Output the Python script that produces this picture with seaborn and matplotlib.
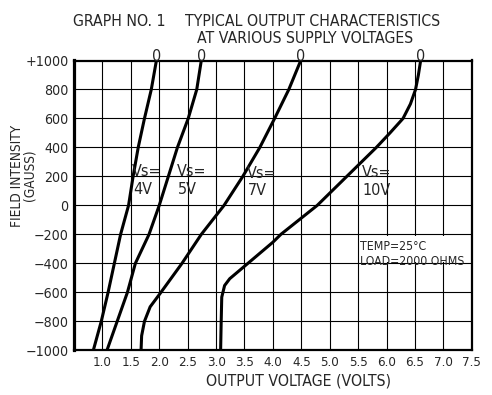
import numpy as np
import pandas as pd
import matplotlib
matplotlib.use("Agg")
import matplotlib.pyplot as plt
import seaborn as sns
from matplotlib.patches import Rectangle

# ---- data ----
field_4v = [1000, 800, 600, 400, 200, 0, -200, -400, -600, -800, -1000]
volts_4v = [1.95, 1.86, 1.74, 1.63, 1.54, 1.46, 1.32, 1.21, 1.10, 0.98, 0.84]

field_5v = [1000, 800, 600, 400, 200, 0, -200, -400, -600, -800, -1000]
volts_5v = [2.74, 2.66, 2.51, 2.32, 2.16, 2.00, 1.82, 1.58, 1.44, 1.26, 1.08]

field_7v = [1000, 800, 600, 400, 200, 0, -200, -400, -600, -700, -800, -900, -1000]
volts_7v = [4.49, 4.28, 4.03, 3.77, 3.47, 3.14, 2.74, 2.40, 2.03, 1.84, 1.74, 1.69, 1.68]

field_10v = [1000, 900, 800, 700, 600, 500, 400, 200, 0, -200, -254, -400, -506, -553, -633, -800, -1000]
volts_10v = [6.60, 6.56, 6.51, 6.42, 6.29, 6.06, 5.82, 5.30, 4.78, 4.14, 4.00, 3.56, 3.24, 3.15, 3.10, 3.09, 3.08]

supply_labels = ["4V", "5V", "7V", "10V"]
x_ticks = [0.5, 1.0, 1.5, 2.0, 2.5, 3.0, 3.5, 4.0, 4.5, 5.0, 5.5, 6.0, 6.5, 7.0, 7.5]
x_ticklabels = ["", "1.0", "1.5", "2.0", "2.5", "3.0", "3.5", "4.0", "4.5", "5.0",
                "5.5", "6.0", "6.5", "7.0", "7.5"]
y_ticks = [1000, 800, 600, 400, 200, 0, -200, -400, -600, -800, -1000]
y_ticklabels = ["+1000", "800", "600", "400", "200", "0", "\u2212200", "\u2212400",
                "\u2212600", "\u2212800", "\u22121000"]

frames = []
for lab, f, v in zip(supply_labels, [field_4v, field_5v, field_7v, field_10v],
                     [volts_4v, volts_5v, volts_7v, volts_10v]):
    frames.append(pd.DataFrame({"supply": lab, "field": f, "volts": v}))
df = pd.concat(frames, ignore_index=True)

sns.set_style("white")
plt.rcParams["font.family"] = ["DejaVu Sans"]
plt.rcParams["font.stretch"] = "condensed"
plt.rcParams["axes.unicode_minus"] = True

W, H = 492, 395
fig = plt.figure(figsize=(W / 100, H / 100), dpi=100)
L, R, T, B = 74.0, 471.8, 60.5, 350.3
ax = fig.add_axes([L / W, 1 - B / H, (R - L) / W, (B - T) / H])

def fx(px):
    return px / W

def fy(py):
    return 1 - py / H

ax.set_axisbelow(True)
ax.grid(True, color="black", linewidth=0.8)

sns.lineplot(data=df, x="volts", y="field", hue="supply", units="supply",
             estimator=None, sort=False, palette=["black"] * 4,
             linewidth=2.2, legend=False, ax=ax, zorder=3)

ax.set_xlim(0.55, 7.5)
ax.set_ylim(-1000, 1000)
ax.set_xticks(x_ticks)
ax.set_xticklabels(x_ticklabels, fontsize=9.5)
ax.set_yticks(y_ticks)
ax.set_yticklabels(y_ticklabels, fontsize=10.2)
ax.tick_params(axis="x", length=0, pad=4.0)
ax.tick_params(axis="y", length=0, pad=4.0)
ax.set_xlabel("")
ax.set_ylabel("")

for side, lw in [("left", 2.3), ("right", 1.6), ("top", 1.6), ("bottom", 1.6)]:
    ax.spines[side].set_visible(True)
    ax.spines[side].set_color("black")
    ax.spines[side].set_linewidth(lw)

# white box behind the conditions note
ax.add_patch(Rectangle((5.6, -392), 1.88, 184, facecolor="white",
                       edgecolor="none", zorder=1))

# "0" marks at the top end of each curve
for v in [volts_4v[0], volts_5v[0], volts_7v[0], volts_10v[0]]:
    ax.annotate("0", xy=(v, 1000), xytext=(0, -0.5), textcoords="offset points",
                ha="center", va="baseline", fontsize=11.5, annotation_clip=False)

TS = 11.3
# titles
fig.text(fx(73), fy(26), "GRAPH NO. 1", fontsize=TS, ha="left", va="baseline")
fig.text(fx(312.5), fy(26), "TYPICAL OUTPUT CHARACTERISTICS", fontsize=TS,
         ha="center", va="baseline")
fig.text(fx(305.5), fy(43), "AT VARIOUS SUPPLY VOLTAGES", fontsize=TS,
         ha="center", va="baseline")

# axis titles
fig.text(fx(299), fy(385.5), "OUTPUT VOLTAGE (VOLTS)", fontsize=TS,
         ha="center", va="baseline")
fig.text(fx(23.0), fy(175.5), "FIELD INTENSITY\n(GAUSS)", fontsize=9.8,
         rotation=90, ha="center", va="center", multialignment="center",
         linespacing=0.9)

# supply voltage labels
for x0, y1, y2, lab in [(132, 176, 194, "4V"), (176.7, 176, 194, "5V"),
                        (246.7, 178, 195, "7V"), (361.7, 177, 195, "10V")]:
    fig.text(fx(x0), fy(y1), "Vs=", fontsize=11.5, ha="left", va="baseline")
    fig.text(fx(x0 + 1), fy(y2), lab, fontsize=11.5, ha="left", va="baseline")

fig.text(fx(360), fy(250), "TEMP=25\u00b0C", fontsize=8.8, ha="left", va="baseline")
fig.text(fx(360), fy(265), "LOAD=2000 OHMS", fontsize=8.8, ha="left", va="baseline")

fig.savefig("out.png", dpi=100)
